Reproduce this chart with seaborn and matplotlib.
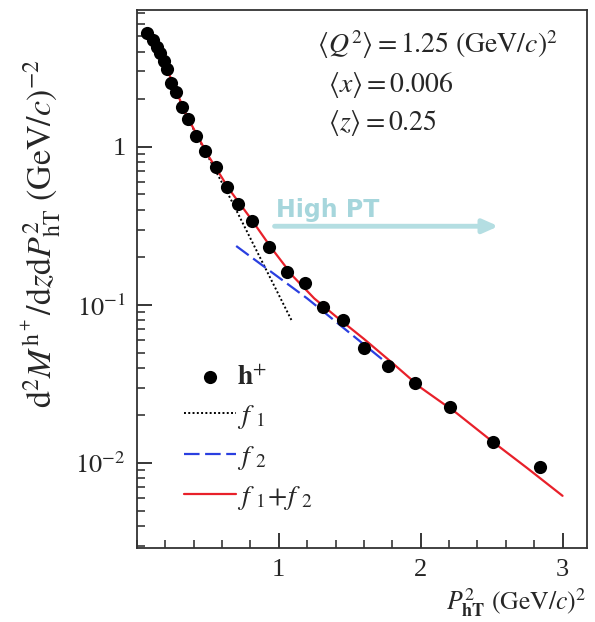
import numpy as np
import pandas as pd
import seaborn as sns
import matplotlib.pyplot as plt
from matplotlib.ticker import MultipleLocator, LogLocator, FixedLocator, NullFormatter

# данные h+
pt2 = [0.075, 0.115, 0.139, 0.162, 0.192, 0.209, 0.239, 0.273, 0.315, 0.361,
       0.420, 0.482, 0.555, 0.637, 0.713, 0.815, 0.932, 1.058, 1.183, 1.312,
       1.453, 1.599, 1.770, 1.958, 2.209, 2.509, 2.843]
hplus = [5.29, 4.75, 4.31, 3.92, 3.47, 3.10, 2.55, 2.21, 1.80, 1.50,
         1.17, 0.94, 0.747, 0.561, 0.436, 0.340, 0.234, 0.161, 0.138, 0.0976,
         0.080, 0.0534, 0.0411, 0.0319, 0.0225, 0.0135, 0.0095]

# f1 + f2
fit_x = [0.075, 0.2, 0.35, 0.5, 0.65, 0.8, 0.95, 1.1, 1.25, 1.4,
         1.6, 1.8, 2.0, 2.25, 2.5, 2.75, 3.0]
fit_y = [5.5, 3.3, 1.58, 0.89, 0.54, 0.355, 0.228, 0.152, 0.11, 0.085,
         0.061, 0.043, 0.030, 0.0208, 0.0138, 0.0093, 0.0062]
# f1
f1_x = [0.075, 0.361, 0.55, 0.66, 1.09]
f1_y = [5.4, 1.5, 0.72, 0.47, 0.080]
# f2
f2_x = [0.70, 1.2, 1.76]
f2_y = [0.236, 0.11, 0.043]

sns.set_style("ticks")
plt.rcParams['font.family'] = ['Liberation Serif', 'DejaVu Serif']
plt.rcParams['mathtext.fontset'] = 'stix'

fig = plt.figure(figsize=(5.95, 6.22), dpi=100)
ax = fig.add_axes([0.230, 0.119, 0.756, 0.865])

sns.lineplot(x=f1_x, y=f1_y, ax=ax, color='black', lw=1.4, linestyle=(0, (1, 1.2)),
             label=r'$f\ _1$', sort=False)
sns.lineplot(x=f2_x, y=f2_y, ax=ax, color='#2a3fe0', lw=1.6, linestyle=(0, (7, 2.5)),
             label=r'$f\ _2$', sort=False)
sns.lineplot(x=fit_x, y=fit_y, ax=ax, color='#e8202a', lw=1.6,
             label=r'$f\ _1\!+\!f\ _2$', sort=False)
sns.scatterplot(x=pt2, y=hplus, ax=ax, color='black', s=90, edgecolor='black',
                linewidth=0, zorder=5, label=r'$\mathbf{h}^{+}$')

ax.set_yscale('log')
ax.set_xlim(0, 3.17)
ax.set_ylim(0.0029, 7.35)

ax.xaxis.set_major_locator(FixedLocator([1, 2, 3]))
ax.xaxis.set_minor_locator(MultipleLocator(0.2))
ax.yaxis.set_major_locator(FixedLocator([0.01, 0.1, 1]))
ax.yaxis.set_minor_locator(LogLocator(base=10, subs=np.arange(2, 10)))
ax.yaxis.set_minor_formatter(NullFormatter())
ax.set_yticklabels([r'$10^{-2}$', r'$10^{-1}$', '1'])
ax.set_xticklabels(['1', '2', '3'])
ax.tick_params(which='major', direction='in', length=11, width=1.3, labelsize=19, pad=8)
ax.tick_params(which='minor', direction='in', length=6, width=1.1)
for s in ax.spines.values():
    s.set_linewidth(1.3)
    s.set_color('#333333')

ax.set_ylabel(r'$\mathrm{d}^2M^{\mathrm{h}^+}/\mathrm{d}z\mathrm{d}P^2_{\mathrm{hT}}\ (\mathrm{GeV}/c)^{-2}$',
              fontsize=24.5)
ax.yaxis.set_label_coords(-0.165, 0.585)
ax.set_xlabel(r'$P^2_{\mathbf{hT}}\ (\mathrm{GeV}/c)^2$', fontsize=18.5)
ax.xaxis.set_label_coords(1.0, -0.07)
ax.xaxis.label.set_horizontalalignment('right')

ax.text(0.40, 0.935, r'$\langle Q^2\rangle = 1.25\ (\mathrm{GeV}/c)^2$', transform=ax.transAxes,
        fontsize=20, va='center')
ax.text(0.426, 0.861, r'$\langle x\rangle = 0.006$', transform=ax.transAxes, fontsize=20, va='center')
ax.text(0.426, 0.790, r'$\langle z\rangle = 0.25$', transform=ax.transAxes, fontsize=20, va='center')

# High PT стрелка
ax.text(0.31, 0.628, 'High PT', transform=ax.transAxes, fontsize=17, fontweight='bold',
        color='#a6d6dc', family='DejaVu Sans', va='center')
ax.annotate('', xy=(0.81, 0.598), xytext=(0.30, 0.598), xycoords='axes fraction',
            arrowprops=dict(arrowstyle='-|>,head_length=0.9,head_width=0.4', color='#b4dee2', lw=3.5))

handles, labels = ax.get_legend_handles_labels()
order = [3, 0, 1, 2]
ax.legend([handles[i] for i in order], [labels[i] for i in order], loc='lower left',
          bbox_to_anchor=(0.05, 0.02), frameon=False, fontsize=20, handlelength=1.85,
          handletextpad=0.05, labelspacing=0.45)

fig.savefig('out.png', dpi=100)
